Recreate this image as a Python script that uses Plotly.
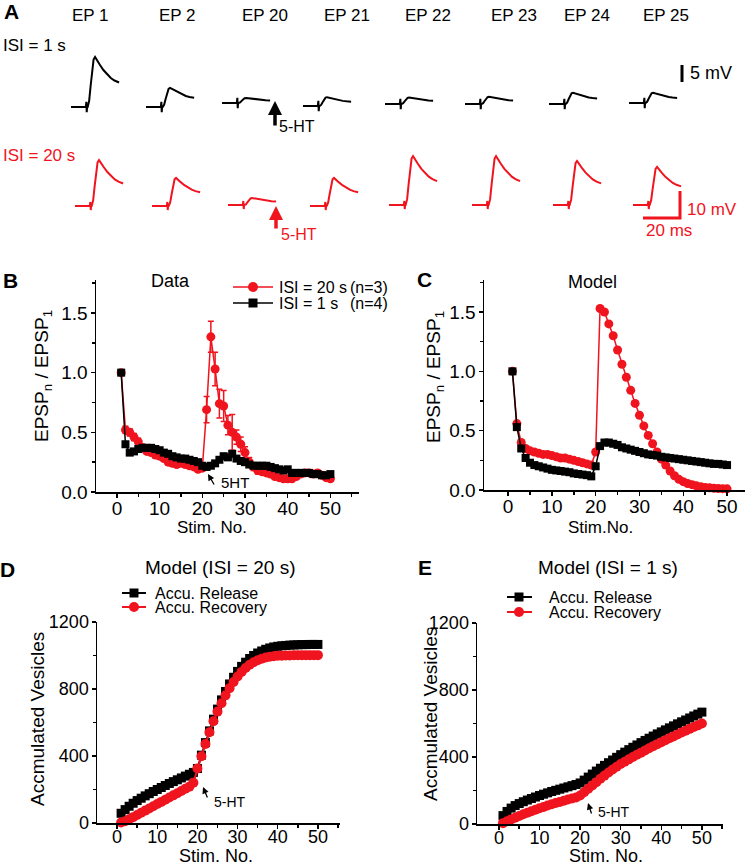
import plotly.graph_objects as go

W, H = 750, 867
FONT = "Liberation Sans, Arial, sans-serif"
RED = "#F0141E"
BLACK = "#000000"

# ======================= DATA =======================
stim = list(range(1, 51))

# Panel A: EPSP amplitudes (mV) per episode, and a normalised EPSP waveform
ep_labels = ["EP 1", "EP 2", "EP 20", "EP 21", "EP 22", "EP 23", "EP 24", "EP 25"]
epsp_amp_isi1 = [14.7, 5.6, 1.5, 2.6, 1.9, 2.1, 3.3, 3.0]
epsp_amp_isi20 = [17.0, 10.4, 2.6, 10.4, 18.1, 18.1, 16.3, 14.1]
wave_t_ms = [0, 8.0, 8.3, 8.5, 8.7, 9.0, 9.8, 10.6, 11.4, 12.2, 13.0, 14.0, 15.5, 17.5, 19.5, 21.5, 23.5, 26.0]
wave_shape = [0, 0, 0, 0, 0, 0, 0.12, 0.42, 0.75, 0.95, 1.0, 0.95, 0.85, 0.74, 0.65, 0.58, 0.53, 0.49]
wave_artifact_mv = [0, 0, 1.5, -1.5, 0, 0, 0, 0, 0, 0, 0, 0, 0, 0, 0, 0, 0, 0]

# Panel B (Data)
b_isi20 = [1.00, 0.52, 0.50, 0.46, 0.42, 0.37, 0.34, 0.33, 0.31, 0.30,
           0.28, 0.25, 0.24, 0.23, 0.24, 0.23, 0.22, 0.21, 0.19, 0.20,
           0.69, 1.30, 1.03, 0.74, 0.72, 0.56, 0.50, 0.46, 0.40, 0.33,
           0.25, 0.21, 0.18, 0.17, 0.16, 0.15, 0.13, 0.12, 0.11, 0.11,
           0.11, 0.13, 0.15, 0.16, 0.16, 0.15, 0.16, 0.14, 0.12, 0.11]
b_isi20_err = [0.00, 0.03, 0.03, 0.03, 0.03, 0.03, 0.02, 0.02, 0.02, 0.02,
               0.02, 0.02, 0.02, 0.02, 0.02, 0.02, 0.02, 0.02, 0.02, 0.02,
               0.11, 0.13, 0.14, 0.12, 0.13, 0.08, 0.15, 0.06, 0.06, 0.05,
               0.04, 0.03, 0.03, 0.02, 0.02, 0.02, 0.02, 0.02, 0.02, 0.02,
               0.02, 0.02, 0.02, 0.02, 0.02, 0.02, 0.02, 0.02, 0.02, 0.02]
b_isi1 = [1.00, 0.40, 0.33, 0.34, 0.36, 0.37, 0.37, 0.37, 0.36, 0.35,
          0.33, 0.32, 0.30, 0.29, 0.28, 0.28, 0.27, 0.26, 0.25, 0.22,
          0.21, 0.22, 0.24, 0.27, 0.30, 0.29, 0.32, 0.28, 0.26, 0.25,
          0.23, 0.22, 0.22, 0.22, 0.22, 0.21, 0.20, 0.19, 0.18, 0.19,
          0.16, 0.16, 0.16, 0.16, 0.16, 0.15, 0.15, 0.14, 0.14, 0.15]
b_isi1_err = [0.00] + [0.02] * 49

# Panel C (Model)
c_isi20 = [1.00, 0.56, 0.40, 0.35, 0.33, 0.32, 0.31, 0.30, 0.30, 0.29,
           0.28, 0.27, 0.27, 0.26, 0.25, 0.24, 0.23, 0.22, 0.21, 0.32,
           1.53, 1.50, 1.40, 1.30, 1.18, 1.06, 0.95, 0.84, 0.73, 0.63,
           0.54, 0.46, 0.39, 0.32, 0.26, 0.21, 0.16, 0.12, 0.09, 0.07,
           0.055, 0.045, 0.035, 0.028, 0.022, 0.018, 0.015, 0.013, 0.011, 0.01]
c_isi1 = [1.00, 0.53, 0.35, 0.27, 0.23, 0.21, 0.20, 0.19, 0.18, 0.17,
          0.165, 0.16, 0.155, 0.15, 0.14, 0.135, 0.13, 0.125, 0.115, 0.20,
          0.37, 0.40, 0.40, 0.39, 0.38, 0.36, 0.35, 0.34, 0.33, 0.32,
          0.31, 0.30, 0.295, 0.29, 0.28, 0.275, 0.27, 0.265, 0.26, 0.255,
          0.25, 0.245, 0.24, 0.235, 0.23, 0.225, 0.22, 0.22, 0.215, 0.21]

# Panel D (Model, ISI = 20 s)
d_release = [58, 80, 100, 118, 134, 148, 162, 175, 188, 200,
             212, 224, 236, 247, 258, 269, 280, 291, 302, 325,
             405, 480, 550, 620, 680, 735, 785, 830, 870, 905,
             935, 960, 982, 1000, 1015, 1027, 1037, 1045, 1051, 1055,
             1058, 1060, 1062, 1063, 1064, 1065, 1065, 1066, 1066, 1066]
d_recovery = [3, 10, 22, 35, 48, 61, 74, 87, 100, 113,
              126, 139, 152, 165, 178, 191, 204, 217, 240, 325,
              398, 472, 542, 607, 665, 715, 762, 805, 842, 875,
              902, 925, 945, 960, 972, 981, 988, 993, 996, 998,
              999, 1000, 1000, 1001, 1001, 1001, 1002, 1002, 1002, 1002]

# Panel E (Model, ISI = 1 s)
e_release = [50, 75, 95, 110, 122, 133, 143, 152, 161, 170,
             178, 186, 194, 201, 208, 215, 222, 229, 236, 245,
             262, 280, 298, 316, 333, 350, 366, 382, 398, 414,
             429, 444, 458, 472, 486, 499, 512, 525, 538, 550,
             562, 574, 586, 598, 610, 621, 633, 645, 656, 668]
e_recovery = [5, 16, 27, 38, 48, 58, 67, 76, 85, 94,
              102, 110, 118, 125, 132, 139, 146, 152, 158, 170,
              190, 210, 230, 250, 270, 289, 307, 325, 342, 358,
              372, 386, 400, 413, 426, 439, 452, 464, 476, 488,
              500, 512, 523, 535, 546, 557, 568, 579, 589, 600]

# ======================= LAYOUT HELPERS =======================
def fx(p):
    return p / W


def fy(p):
    return 1 - p / H


fig = go.Figure()
annotations = []
shapes = []


def text(s, x, y, size=16, color=BLACK, xanchor="center", angle=0, bold=False):
    if bold:
        s = "<b>" + s + "</b>"
    annotations.append(dict(text=s, x=fx(x), y=fy(y), xref="paper", yref="paper",
                            xanchor=xanchor, yanchor="middle", showarrow=False,
                            textangle=angle, font=dict(family=FONT, size=size, color=color)))


def arrow(tip_x, tip_y, dx, dy, color=BLACK, width=1.2, size=1.0):
    annotations.append(dict(text="", x=fx(tip_x), y=fy(tip_y), xref="paper", yref="paper",
                            showarrow=True, ax=dx, ay=dy, arrowhead=2, arrowsize=size,
                            arrowwidth=width, arrowcolor=color))


def axis(dom_x_px=None, dom_y_px=None, rng=None, tickvals=None, ticktext=None,
         minor_vals=None, size=19, anchor=None, standoff=0):
    d = dict(range=rng, showline=True, linecolor=BLACK, linewidth=1.5, ticks="outside",
             ticklen=4, tickwidth=1.5, tickcolor=BLACK, tickmode="array", tickvals=tickvals,
             showgrid=False, zeroline=False, anchor=anchor, fixedrange=True, automargin=False,
             ticklabelstandoff=standoff,
             tickfont=dict(family=FONT, size=size, color=BLACK))
    if ticktext is not None:
        d["ticktext"] = ticktext
    if dom_x_px is not None:
        d["domain"] = [fx(dom_x_px[0]), fx(dom_x_px[1])]
    if dom_y_px is not None:
        d["domain"] = [fy(dom_y_px[1]), fy(dom_y_px[0])]
    if minor_vals is not None:
        d["minor"] = dict(tickmode="array", tickvals=minor_vals, ticks="outside", ticklen=3,
                          tickwidth=1.5, tickcolor=BLACK, showgrid=False)
    return d


# ======================= PANEL A =======================
MS_PX = 1.85  # px per ms (from 20 ms bar)
rows = [
    dict(amps=epsp_amp_isi1, color=BLACK, base=105, mvpx=3.4, dom=(38, 142), ax="x5", ay="y5",
         slots=[71, 146, 222, 303, 385, 465, 549, 629],
         bases=[107, 107, 103, 106, 104, 104, 104, 103]),
    dict(amps=epsp_amp_isi20, color=RED, base=206, mvpx=2.7, dom=(146, 246), ax="x6", ay="y6",
         slots=[75, 152, 228, 310, 389, 472, 553, 633],
         bases=[206, 206, 205, 206, 205, 205, 205, 205]),
]
for r in rows:
    for i, amp in enumerate(r["amps"]):
        t0 = r["slots"][i] / MS_PX
        v0 = (r["base"] - r["bases"][i]) / r["mvpx"]
        xs = [t0 + t for t in wave_t_ms]
        ys = [v0 + amp * s + a for s, a in zip(wave_shape, wave_artifact_mv)]
        fig.add_trace(go.Scatter(x=xs, y=ys, mode="lines", line=dict(color=r["color"], width=2),
                                 xaxis=r["ax"], yaxis=r["ay"], showlegend=False,
                                 cliponaxis=False, hoverinfo="skip"))

# scale bars
t_bar1 = 682 / MS_PX
v_bar1 = (105 - 82) / 3.4
fig.add_trace(go.Scatter(x=[t_bar1, t_bar1], y=[v_bar1, v_bar1 + 5], mode="lines",
                         line=dict(color=BLACK, width=3), xaxis="x5", yaxis="y5",
                         showlegend=False, cliponaxis=False))
t_bar2 = 680 / MS_PX
v_bar2 = (206 - 218) / 2.7
fig.add_trace(go.Scatter(x=[t_bar2 - 20, t_bar2, t_bar2], y=[v_bar2, v_bar2, v_bar2 + 10],
                         mode="lines", line=dict(color=RED, width=3), xaxis="x6", yaxis="y6",
                         showlegend=False, cliponaxis=False))

text("A", 11, 11, size=21, bold=True)
for lab, cx in zip(ep_labels, [90, 177, 265, 347, 428, 514, 587, 666]):
    text(lab, cx, 16, size=17)
text("ISI = 1 s", 1, 45, size=17, xanchor="left")
text("ISI = 20 s", 1, 155, size=17, color=RED, xanchor="left")
text("5 mV", 688, 73, size=18, xanchor="left")
text("10 mV", 685, 209, size=17, color=RED, xanchor="left")
text("20 ms", 644, 231, size=17, color=RED, xanchor="left")
arrow(275, 101, 0, 26, color=BLACK, width=3.5, size=0.8)
text("5-HT", 277, 127, size=16, xanchor="left")
arrow(276, 206, 0, 24, color=RED, width=3.5, size=0.8)
text("5-HT", 279, 234, size=16, color=RED, xanchor="left")

# ======================= PANEL B =======================
fig.add_trace(go.Scatter(x=stim, y=b_isi20, mode="lines+markers",
                         line=dict(color=RED, width=1.5),
                         marker=dict(symbol="circle", size=9, color=RED, line=dict(width=0)),
                         error_y=dict(type="data", array=b_isi20_err, color=RED, thickness=1.5, width=3),
                         xaxis="x", yaxis="y", showlegend=False, cliponaxis=False))
fig.add_trace(go.Scatter(x=stim, y=b_isi1, mode="lines+markers",
                         line=dict(color=BLACK, width=1.5),
                         marker=dict(symbol="square", size=8, color=BLACK, line=dict(width=0)),
                         error_y=dict(type="data", array=b_isi1_err, color=BLACK, thickness=1.2, width=2),
                         xaxis="x", yaxis="y", showlegend=False, cliponaxis=False))

# ======================= PANEL C =======================
fig.add_trace(go.Scatter(x=stim, y=c_isi20, mode="lines+markers",
                         line=dict(color=RED, width=1.5),
                         marker=dict(symbol="circle", size=9, color=RED, line=dict(width=0)),
                         xaxis="x2", yaxis="y2", showlegend=False, cliponaxis=False))
fig.add_trace(go.Scatter(x=stim, y=c_isi1, mode="lines+markers",
                         line=dict(color=BLACK, width=1.5),
                         marker=dict(symbol="square", size=8, color=BLACK, line=dict(width=0)),
                         xaxis="x2", yaxis="y2", showlegend=False, cliponaxis=False))

# ======================= PANEL D =======================
fig.add_trace(go.Scatter(x=stim, y=d_release, mode="lines+markers",
                         line=dict(color=BLACK, width=2),
                         marker=dict(symbol="square", size=9, color=BLACK, line=dict(width=0)),
                         xaxis="x3", yaxis="y3", showlegend=False, cliponaxis=False))
fig.add_trace(go.Scatter(x=stim, y=d_recovery, mode="lines+markers",
                         line=dict(color=RED, width=2),
                         marker=dict(symbol="circle", size=10, color=RED, line=dict(width=0)),
                         xaxis="x3", yaxis="y3", showlegend=False, cliponaxis=False))

# ======================= PANEL E =======================
fig.add_trace(go.Scatter(x=stim, y=e_release, mode="lines+markers",
                         line=dict(color=BLACK, width=2),
                         marker=dict(symbol="square", size=9, color=BLACK, line=dict(width=0)),
                         xaxis="x4", yaxis="y4", showlegend=False, cliponaxis=False))
fig.add_trace(go.Scatter(x=stim, y=e_recovery, mode="lines+markers",
                         line=dict(color=RED, width=2),
                         marker=dict(symbol="circle", size=10, color=RED, line=dict(width=0)),
                         xaxis="x4", yaxis="y4", showlegend=False, cliponaxis=False))

# ---------- axes ----------
xt = [0, 10, 20, 30, 40, 50]
xminor = [5, 15, 25, 35, 45, 55]
yB = [0, 0.5, 1.0, 1.5]
yBt = ["0.0", "0.5", "1.0", "1.5"]
yBminor = [0.25, 0.75, 1.25, 1.75]
yD = [0, 400, 800, 1200]
yDminor = [200, 600, 1000]

layout_axes = dict(
    xaxis=axis(dom_x_px=(96, 359), rng=[-4.9, 56.7], tickvals=xt, minor_vals=xminor, size=19, anchor="y", standoff=-5),
    yaxis=axis(dom_y_px=(280, 492), rng=[0, 1.776], tickvals=yB, ticktext=yBt, minor_vals=yBminor, size=19, anchor="x", standoff=-1),
    xaxis2=axis(dom_x_px=(484, 745), rng=[-5.5, 54.1], tickvals=xt, minor_vals=xminor[:-1], size=19, anchor="y2", standoff=-5),
    yaxis2=axis(dom_y_px=(280, 490), rng=[0, 1.77], tickvals=yB, ticktext=yBt, minor_vals=yBminor, size=19, anchor="x2", standoff=-1),
    xaxis3=axis(dom_x_px=(97, 340), rng=[-5.0, 55.5], tickvals=xt, minor_vals=xminor, size=18, anchor="y3", standoff=-7),
    yaxis3=axis(dom_y_px=(622, 823), rng=[0, 1200], tickvals=yD, minor_vals=yDminor, size=18, anchor="x3", standoff=-1),
    xaxis4=axis(dom_x_px=(477, 723), rng=[-5.4, 55.2], tickvals=xt, minor_vals=xminor, size=18, anchor="y4", standoff=-7),
    yaxis4=axis(dom_y_px=(623, 824), rng=[0, 1200], tickvals=yD, minor_vals=yDminor, size=18, anchor="x4", standoff=-1),
)
for r, xa, ya in [(rows[0], "xaxis5", "yaxis5"), (rows[1], "xaxis6", "yaxis6")]:
    top, bot = r["dom"]
    layout_axes[xa] = dict(domain=[0, 1], range=[0, W / MS_PX], visible=False, fixedrange=True,
                           automargin=False, anchor=ya.replace("axis", ""))
    layout_axes[ya] = dict(domain=[fy(bot), fy(top)],
                           range=[(r["base"] - bot) / r["mvpx"], (r["base"] - top) / r["mvpx"]],
                           visible=False, fixedrange=True, automargin=False,
                           anchor=xa.replace("axis", ""))

# ---------- panel texts ----------
YLAB_EPSP = "EPSP<sub>n</sub> / EPSP<sub>1</sub>"
text("B", 10, 281, size=21, bold=True)
text("Data", 170, 281, size=18)
text("Stim. No.", 212, 527, size=17)
text(YLAB_EPSP, 43, 376, size=19, angle=-90)
arrow(208, 474, 7, 12, width=1.3, size=1.0)
text("5HT", 219, 482, size=15, xanchor="left")

text("C", 424, 279, size=21, bold=True)
text("Model", 592, 282, size=18)
text("Stim.No.", 600, 527, size=17)
text(YLAB_EPSP, 435, 377, size=19, angle=-90)

text("D", 7, 569, size=21, bold=True)
text("Model (ISI = 20 s)", 220, 567, size=19)
text("Accmulated Vesicles", 37, 719, size=19, angle=-90)
text("Stim. No.", 216, 856, size=18)
arrow(203, 787, 5, 12, width=1.3, size=1.0)
text("5-HT", 212, 802, size=14, xanchor="left")

text("E", 425, 567, size=21, bold=True)
text("Model (ISI = 1 s)", 608, 567, size=19)
text("Accmulated Vesicles", 430, 714, size=19, angle=-90)
text("Stim. No.", 606, 856, size=18)
arrow(588, 803, 4, 12, width=1.3, size=1.0)
text("5-HT", 596, 812, size=14, xanchor="left")


# ---------- manual legends ----------
def leg_line(x0, x1, y, color, width=1.5):
    shapes.append(dict(type="line", xref="paper", yref="paper", x0=fx(x0), x1=fx(x1),
                       y0=fy(y), y1=fy(y), line=dict(color=color, width=width)))


def leg_circle(cx, cy, d, color):
    shapes.append(dict(type="circle", xref="paper", yref="paper", x0=fx(cx - d / 2), x1=fx(cx + d / 2),
                       y0=fy(cy + d / 2), y1=fy(cy - d / 2), fillcolor=color, line=dict(width=0)))


def leg_square(cx, cy, d, color):
    shapes.append(dict(type="rect", xref="paper", yref="paper", x0=fx(cx - d / 2), x1=fx(cx + d / 2),
                       y0=fy(cy + d / 2), y1=fy(cy - d / 2), fillcolor=color, line=dict(width=0)))


# B legend
leg_line(233, 273, 287, RED)
leg_circle(253, 287, 10, RED)
leg_line(233, 273, 303, BLACK)
leg_square(253, 303, 9, BLACK)
text("ISI = 20 s", 277, 287, size=16, xanchor="left")
text("(n=3)", 348, 287, size=16, xanchor="left")
text("ISI = 1 s", 277, 303, size=16, xanchor="left")
text("(n=4)", 348, 303, size=16, xanchor="left")

# D legend
leg_line(122, 146, 593, BLACK, 2)
leg_square(134, 593, 9, BLACK)
leg_line(122, 146, 607, RED, 2)
leg_circle(134, 607, 10, RED)
text("Accu. Release", 153, 593, size=16, xanchor="left")
text("Accu. Recovery", 153, 607, size=16, xanchor="left")

# E legend
leg_line(507, 532, 597, BLACK, 2)
leg_square(519, 597, 9, BLACK)
leg_line(507, 532, 612, RED, 2)
leg_circle(519, 612, 10, RED)
text("Accu. Release", 547, 597, size=16, xanchor="left")
text("Accu. Recovery", 547, 612, size=16, xanchor="left")

fig.update_layout(
    width=W, height=H, autosize=False,
    margin=dict(l=0, r=0, t=0, b=0, pad=0, autoexpand=False),
    paper_bgcolor="white", plot_bgcolor="rgba(0,0,0,0)",
    font=dict(family=FONT, color=BLACK),
    showlegend=False,
    annotations=annotations, shapes=shapes,
    **layout_axes,
)

fig.write_html("out.html", config=dict(displayModeBar=False, staticPlot=True),
               post_script="document.body.style.margin='0px';document.body.style.overflow='hidden';")
